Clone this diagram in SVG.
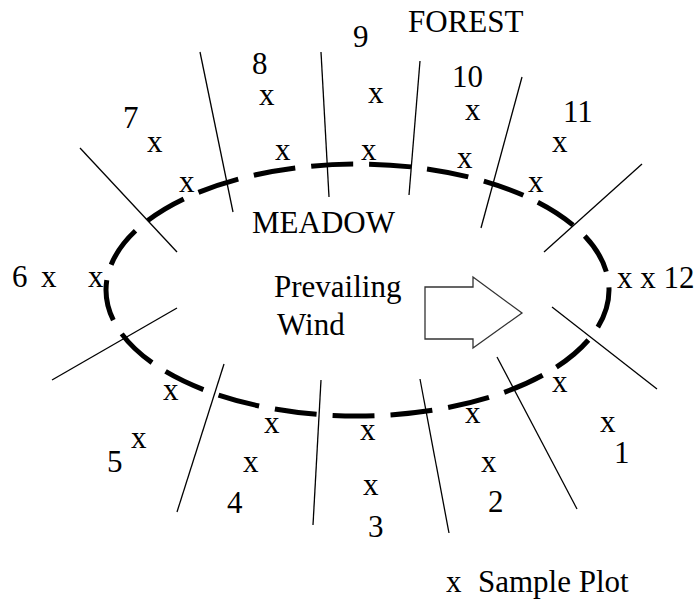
<svg xmlns="http://www.w3.org/2000/svg" width="696" height="599" viewBox="0 0 696 599" font-family="Liberation Serif, Times New Roman, serif">
<style>
.t{font-family:"Liberation Serif","DejaVu Serif",serif;font-size:31px;fill:#000}
.div{stroke:#000;stroke-width:1.3;fill:none}
.meadow{stroke:#000;stroke-width:5;fill:none;stroke-dasharray:42 16.05;stroke-dashoffset:32}
.arrow{stroke:#333;stroke-width:1.3;fill:#fff}
</style>
<rect width="696" height="599" fill="#fff"/>
<g id="meadow-boundary">
<path class="meadow" d="M106 290 A251.5 126 0 0 1 609 290 A251.5 126 0 0 1 106 290"/>
</g>
<g id="dividers">
<line class="div" x1="80" y1="148" x2="177" y2="252"/>
<line class="div" x1="200" y1="52" x2="233" y2="212"/>
<line class="div" x1="321" y1="52" x2="329" y2="197"/>
<line class="div" x1="420" y1="61" x2="409" y2="195"/>
<line class="div" x1="522" y1="77" x2="481" y2="228"/>
<line class="div" x1="642" y1="164" x2="544" y2="252"/>
<line class="div" x1="552" y1="307" x2="657" y2="389"/>
<line class="div" x1="497" y1="357" x2="577" y2="509"/>
<line class="div" x1="420" y1="379" x2="449" y2="533"/>
<line class="div" x1="321" y1="380" x2="313" y2="525"/>
<line class="div" x1="224" y1="364" x2="177" y2="512"/>
<line class="div" x1="177" y1="308" x2="52" y2="380"/>
</g>
<g id="wind-arrow">
<polygon class="arrow" points="425,287 473,287 473,277 522,313 473,348 473,339 425,339"/>
</g>
<g id="labels">
<text class="t" x="408" y="32">FOREST</text>
<text class="t" x="252" y="233">MEADOW</text>
<text class="t" x="274" y="297">Prevailing</text>
<text class="t" x="277" y="335">Wind</text>
</g>
<g id="plot-7"><text class="t" x="123" y="128">7</text><text class="t" x="147" y="152">x</text><text class="t" x="179" y="192">x</text></g>
<g id="plot-8"><text class="t" x="252" y="74">8</text><text class="t" x="259" y="105">x</text><text class="t" x="275" y="160">x</text></g>
<g id="plot-9"><text class="t" x="353" y="47">9</text><text class="t" x="368" y="103">x</text><text class="t" x="361" y="160">x</text></g>
<g id="plot-10"><text class="t" x="452" y="87">10</text><text class="t" x="465" y="120">x</text><text class="t" x="457" y="168">x</text></g>
<g id="plot-11"><text class="t" x="563" y="122">11</text><text class="t" x="552" y="152">x</text><text class="t" x="528" y="192">x</text></g>
<g id="plot-12"><text class="t" x="617" y="288">x x 12</text></g>
<g id="plot-6"><text class="t" x="12" y="287">6</text><text class="t" x="41" y="287">x</text><text class="t" x="88" y="287">x</text></g>
<g id="plot-5"><text class="t" x="163" y="400">x</text><text class="t" x="131" y="448">x</text><text class="t" x="107" y="472">5</text></g>
<g id="plot-4"><text class="t" x="264" y="433">x</text><text class="t" x="243" y="472">x</text><text class="t" x="227" y="513">4</text></g>
<g id="plot-3"><text class="t" x="360" y="440">x</text><text class="t" x="363" y="495">x</text><text class="t" x="368" y="537">3</text></g>
<g id="plot-2"><text class="t" x="465" y="423">x</text><text class="t" x="481" y="472">x</text><text class="t" x="488" y="512">2</text></g>
<g id="plot-1"><text class="t" x="552" y="392">x</text><text class="t" x="600" y="432">x</text><text class="t" x="614" y="463">1</text></g>
<g id="legend"><text class="t" x="446" y="592">x<tspan x="478">Sample Plot</tspan></text></g>
</svg>
